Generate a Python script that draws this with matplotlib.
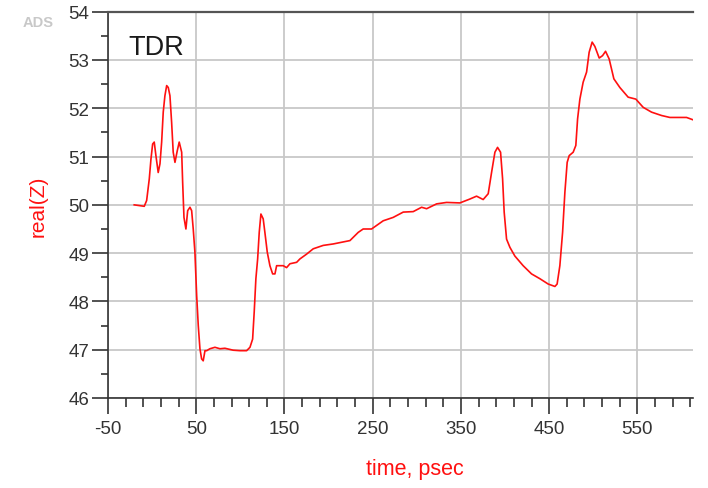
import matplotlib
matplotlib.use("Agg")
import matplotlib.pyplot as plt
import numpy as np

plt.rcParams['font.family'] = ['Liberation Sans', 'DejaVu Sans']

# TDR impedance trace: time (ps) vs real(Z) (ohm)
time_ps = [
    -20.3, -8.9, -6.2, -3.2, -1.3, 0.6, 2.4, 4.3, 6.9, 8.9, 10.8, 12.6, 14.5, 16.5,
    18.3, 20.2, 22.1, 23.9, 25.9, 28.5, 30.7, 33.5, 34.6, 36.1, 38.3, 40.3, 42.9,
    44.8, 46.6, 48.5, 50.5, 52.3, 54.2, 56.1, 57.9, 59.9, 61.8, 65.5, 71.2, 76.9,
    82.5, 91.9, 99.5, 107.1, 110.9, 113.9, 115.7, 117.6, 119.6, 121.4, 123.3, 125.9,
    127.8, 130.5, 133.5, 136.6, 139.2, 141.1, 148.6, 152.4, 156.2, 163.8, 167.5,
    175.1, 182.6, 193.9, 205.2, 224.2, 233.6, 239.2, 248.7, 261.9, 273.2, 284.6,
    295.9, 305.4, 311.1, 322.4, 333.7, 348.8, 360.1, 367.7, 375.2, 380.9, 384.7,
    388.5, 391.5, 394.9, 397.2, 399.0, 401.7, 405.5, 411.1, 420.5, 430.0, 439.5,
    448.9, 456.5, 459.0, 462.1, 465.2, 467.8, 470.4, 472.7, 477.2, 480.2, 482.2,
    484.8, 488.5, 492.4, 495.3, 498.7, 501.8, 506.7, 510.5, 513.9, 518.0, 523.3,
    530.1, 539.5, 548.2, 556.5, 566.0, 577.4, 586.8, 605.7, 613.2,
]
real_z = [
    50.00, 49.97, 50.09, 50.54, 50.95, 51.26, 51.30, 51.02, 50.67, 50.85, 51.30, 51.92, 52.26, 52.47,
    52.43, 52.26, 51.71, 51.09, 50.88, 51.12, 51.30, 51.09, 50.47, 49.74, 49.50, 49.88, 49.95,
    49.88, 49.50, 49.02, 48.12, 47.50, 47.02, 46.81, 46.77, 46.98, 46.98, 47.02, 47.05, 47.02,
    47.03, 46.99, 46.98, 46.98, 47.05, 47.22, 47.78, 48.47, 48.88, 49.43, 49.81, 49.71,
    49.43, 49.02, 48.74, 48.57, 48.57, 48.74, 48.74, 48.70, 48.78, 48.81, 48.88,
    48.98, 49.09, 49.16, 49.19, 49.26, 49.43, 49.50, 49.50, 49.67, 49.74, 49.85,
    49.86, 49.95, 49.92, 50.02, 50.05, 50.04, 50.12, 50.18, 50.11, 50.23, 50.67,
    51.09, 51.19, 51.09, 50.54, 49.85, 49.29, 49.12, 48.94, 48.74, 48.57, 48.47,
    48.36, 48.31, 48.36, 48.74, 49.43, 50.26, 50.88, 51.02, 51.09, 51.23, 51.78,
    52.19, 52.54, 52.75, 53.16, 53.37, 53.28, 53.04, 53.09, 53.18, 53.02, 52.61,
    52.43, 52.23, 52.19, 52.02, 51.92, 51.85, 51.81, 51.81, 51.76,
]

x_ticks = [-50, 50, 150, 250, 350, 450, 550]
y_ticks = [46, 47, 48, 49, 50, 51, 52, 53, 54]

fig = plt.figure(figsize=(7.08, 4.89), dpi=100)
ax = fig.add_axes([108 / 708, 1 - 399 / 489, (693 - 108) / 708, (399 - 12.7) / 489])

ax.plot(time_ps, real_z, color='#ff1010', lw=1.2, zorder=3)

ax.set_xlim(-50, 613)
ax.set_ylim(46, 54)
ax.set_xticks(x_ticks)
ax.set_xticklabels([str(v) for v in x_ticks])
ax.set_yticks(y_ticks)
ax.set_yticklabels([str(v) for v in y_ticks])
ax.set_xticks(np.arange(-50, 614, 20), minor=True)
ax.set_yticks(np.arange(46, 54.01, 0.5), minor=True)

ax.grid(which='major', color='#c8c8c8', lw=1.3, zorder=0)
ax.set_axisbelow(True)

tick_col = '#333333'
ax.tick_params(axis='both', which='major', direction='out', length=11.5, width=1.2,
               color=tick_col, labelcolor=tick_col, labelsize=13.5)
ax.tick_params(axis='x', which='major', pad=4)
ax.tick_params(axis='y', which='major', pad=2)
ax.tick_params(axis='x', which='minor', direction='out', length=6.5, width=1.2, color=tick_col)
ax.tick_params(axis='y', which='minor', direction='out', length=5, width=1.2, color=tick_col)

for side in ('left', 'bottom'):
    ax.spines[side].set_color(tick_col)
    ax.spines[side].set_linewidth(1.2)
ax.spines['top'].set_color('#555555')
ax.spines['top'].set_linewidth(1.6)
ax.spines['right'].set_visible(False)

fig.text(128 / 708, 1 - 55 / 489, 'TDR', fontsize=19.5, color='#1a1a1a',
         ha='left', va='baseline')
fig.text(38 / 708, 1 - 23 / 489, 'ADS', fontsize=10.5, fontweight='bold',
         color='#c8c8c8', ha='center', va='center')
fig.text(38 / 708, 1 - 206 / 489, 'real(Z)', fontsize=15, color='#ff1010',
         rotation=90, ha='center', va='center')
fig.text(415 / 708, 1 - 470 / 489, 'time, psec', fontsize=15.5, color='#ff1010',
         ha='center', va='center')

fig.savefig('out.png', dpi=100)
